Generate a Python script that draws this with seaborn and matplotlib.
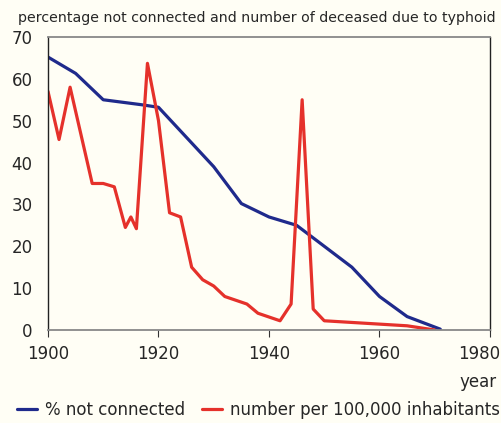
import numpy as np
import pandas as pd
import matplotlib
matplotlib.use("Agg")
import matplotlib.pyplot as plt
import matplotlib.transforms as mtransforms
import seaborn as sns

# % of houses not connected to the water supply
conn_years = [1900, 1905, 1910, 1917, 1920, 1930, 1935, 1940, 1945, 1955, 1960, 1965, 1971]
conn_vals = [65.2, 61.3, 55.0, 53.8, 53.2, 39.0, 30.2, 27.0, 25.0, 15.0, 8.0, 3.2, 0.2]

# deceased due to typhoid per 100,000 inhabitants
typh_years = [1900, 1902, 1904, 1908, 1910, 1912, 1914, 1915, 1916, 1918, 1920, 1922, 1924,
              1926, 1928, 1930, 1932, 1936, 1938, 1942, 1944, 1946, 1948, 1950, 1965, 1970]
typh_vals = [57.0, 45.5, 58.0, 35.0, 35.0, 34.2, 24.5, 27.0, 24.2, 63.7, 50.0, 28.0, 27.0,
             15.0, 12.0, 10.5, 8.0, 6.2, 4.0, 2.2, 6.2, 55.0, 5.0, 2.2, 1.0, 0.0]

labels = ["% not connected", "number per 100,000 inhabitants"]
colors = ["#1f2a8c", "#e5312b"]

df = pd.concat([
    pd.DataFrame({"year": conn_years, "value": conn_vals, "series": labels[0]}),
    pd.DataFrame({"year": typh_years, "value": typh_vals, "series": labels[1]}),
])

sns.set_style("white")
plt.rcParams["font.family"] = ["DejaVu Sans"]
bg = "#fffef5"

fig = plt.figure(figsize=(5.02, 4.23), dpi=100, facecolor=bg)
ax = fig.add_axes([0.0956, 0.2199, 0.8805, 0.6927], facecolor=bg)

sns.lineplot(data=df, x="year", y="value", hue="series", palette=colors,
             estimator=None, sort=False, linewidth=2.3, ax=ax, legend=False)

ax.set_xlim(1900, 1980)
ax.set_ylim(0, 70)
ax.set_xticks(range(1900, 1981, 20))
ax.set_yticks(range(0, 71, 10))
ax.set_yticks([0, 70], minor=True)
ax.tick_params(axis="y", which="major", length=0, labelsize=12, pad=11)
ax.tick_params(axis="y", which="minor", length=6, color="#333333", width=1)
ax.tick_params(axis="x", which="major", length=5, labelsize=12, color="#333333", pad=6,
               direction="out", bottom=True)
ax.set_xlabel("")
ax.set_ylabel("")

# last year label sits a bit to the left, as in the original
last = ax.get_xticklabels()[-1]
last.set_horizontalalignment("right")
last.set_transform(last.get_transform() +
                   mtransforms.ScaledTranslation(10 / 100, 0, fig.dpi_scale_trans))

for side in ["left", "right"]:
    ax.spines[side].set_color("#222222")
    ax.spines[side].set_linewidth(1)
for side in ["top", "bottom"]:
    ax.spines[side].set_color("#888888")
    ax.spines[side].set_linewidth(1.3)

fig.text(0.036, 0.958, "percentage not connected and number of deceased due to typhoid",
         fontsize=10.2, ha="left", va="center")
fig.text(0.99, 0.097, "year", fontsize=12, ha="right", va="center")

handles = [plt.Line2D([], [], color=c, linewidth=2.3) for c in colors]
fig.legend(handles, labels, loc="center", bbox_to_anchor=(0.515, 0.03), ncol=2,
           frameon=False, fontsize=12, handlelength=1.2, columnspacing=1.0,
           handletextpad=0.5, borderpad=0)

fig.savefig("out.png", dpi=100, facecolor=bg)
